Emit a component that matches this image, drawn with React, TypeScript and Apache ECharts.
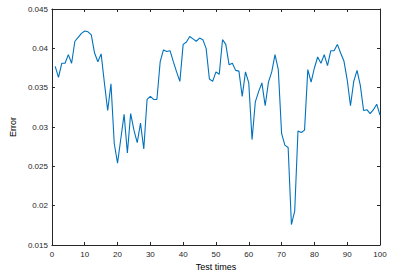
import React, { useEffect, useRef } from "react";
import * as echarts from "echarts";

const errorValues: number[] = [
  0.0377, 0.0363, 0.0381, 0.0381, 0.0392, 0.0381, 0.0409, 0.0414, 0.0419, 0.0422,
  0.0421, 0.0417, 0.0394, 0.0383, 0.0393, 0.0356, 0.0321, 0.0355, 0.0279, 0.0254,
  0.0285, 0.0316, 0.0267, 0.0317, 0.0296, 0.0280, 0.0305, 0.0272, 0.0335, 0.0339,
  0.0335, 0.0335, 0.0383, 0.0398, 0.0396, 0.0397, 0.0383, 0.0370, 0.0358, 0.0405,
  0.0408, 0.0415, 0.0412, 0.0409, 0.0413, 0.0411, 0.0400, 0.0361, 0.0358, 0.0370,
  0.0367, 0.0411, 0.0405, 0.0379, 0.0381, 0.0372, 0.0371, 0.0339, 0.0370, 0.0356,
  0.0284, 0.0332, 0.0345, 0.0356, 0.0327, 0.0357, 0.0370, 0.0392, 0.0373, 0.0292,
  0.0277, 0.0274, 0.0176, 0.0193, 0.0295, 0.0293, 0.0296, 0.0373, 0.0357, 0.0375,
  0.0389, 0.0381, 0.0392, 0.0378, 0.0397, 0.0397, 0.0405, 0.0394, 0.0384, 0.0360,
  0.0327, 0.0358, 0.0372, 0.0353, 0.0321, 0.0322, 0.0317, 0.0322, 0.0329, 0.0315,
];
const testTimes: number[] = errorValues.map((_, i) => i + 1);

const xName = "Test times";
const yName = "Error";

export default function App() {
  const ref = useRef<HTMLDivElement>(null);
  useEffect(() => {
    if (!ref.current) return;
    const chart = echarts.init(ref.current, undefined, { renderer: "svg" });
    const axisColor = "#262626";
    const font = "'Liberation Sans', Arial, Helvetica, sans-serif";
    const common = {
      axisLine: { show: true, onZero: false, lineStyle: { color: axisColor, width: 1 } },
      axisTick: { show: true, inside: true, length: 3, lineStyle: { color: axisColor } },
      splitLine: { show: false },
    };
    chart.setOption({
      animation: false,
      backgroundColor: "#ffffff",
      grid: { left: 46, right: 20, top: 9, bottom: 33, containLabel: false },
      xAxis: [
        {
          type: "value",
          min: 0,
          max: 100,
          interval: 10,
          position: "bottom",
          name: xName,
          nameLocation: "middle",
          nameGap: 15,
          nameTextStyle: { color: "#000", fontSize: 9, fontFamily: font },
          axisLabel: { color: "#262626", fontSize: 8, fontFamily: font, margin: 5 },
          ...common,
        },
        {
          type: "value",
          min: 0,
          max: 100,
          interval: 10,
          position: "top",
          axisLabel: { show: false },
          ...common,
        },
      ],
      yAxis: [
        {
          type: "value",
          min: 0.015,
          max: 0.045,
          interval: 0.005,
          position: "left",
          name: yName,
          nameLocation: "middle",
          nameGap: 23,
          nameTextStyle: { color: "#000", fontSize: 9, fontFamily: font },
          axisLabel: { color: "#262626", fontSize: 8, fontFamily: font, margin: 4 },
          ...common,
        },
        {
          type: "value",
          min: 0.015,
          max: 0.045,
          interval: 0.005,
          position: "right",
          axisLabel: { show: false },
          ...common,
        },
      ],
      series: [
        {
          type: "line",
          data: testTimes.map((t, i) => [t, errorValues[i]]),
          showSymbol: false,
          symbol: "none",
          lineStyle: { color: "#0072BD", width: 1.1 },
          xAxisIndex: 0,
          yAxisIndex: 0,
        },
      ],
    });
    return () => chart.dispose();
  }, []);
  return (
    <div
      ref={ref}
      style={{ position: "fixed", left: 0, top: 0, width: 400, height: 278, background: "#fff" }}
    />
  );
}
